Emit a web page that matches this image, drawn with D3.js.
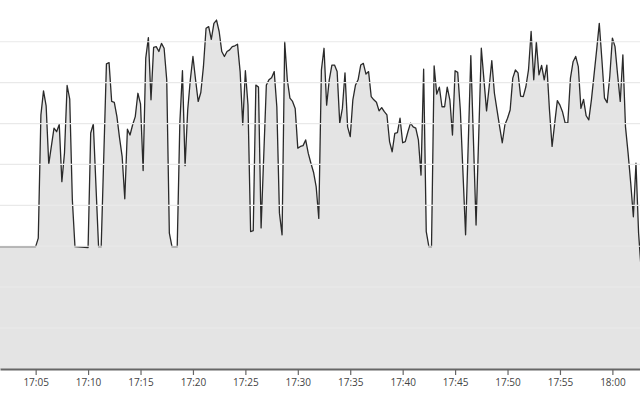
<!DOCTYPE html>
<html>
<head>
<meta charset="utf-8">
<script src="https://cdn.jsdelivr.net/npm/d3@7"></script>
<style>
  body { margin: 0; background: #fff; }
  svg { display: block; font-family: "Open Sans", sans-serif; }
</style>
</head>
<body>
<div class="canvas"></div>
<script>
const WIDTH = 640;
const HEIGHT = 400;
const margin = { top: 0, right: 0, bottom: 31, left: 0 };

const graphWidth = WIDTH - margin.left - margin.right;
const graphHeight = HEIGHT - margin.top - margin.bottom;

// visible window of the time axis
const xStart = '17:01:36';
const xEnd = '18:02:38';
const yMax = 9.02;
const gridValues = [1, 2, 3, 4, 5, 6, 7, 8];
const tickTimes = ['17:05', '17:10', '17:15', '17:20', '17:25', '17:30',
  '17:35', '17:40', '17:45', '17:50', '17:55', '18:00'];

// samples (time, value)
const times = [
  '17:01:30', '17:05:00', '17:05:15', '17:05:30', '17:05:45', '17:06:00', '17:06:15', '17:06:45',
  '17:07:00', '17:07:15', '17:07:30', '17:07:45', '17:08:00', '17:08:15', '17:08:30', '17:08:45',
  '17:10:00', '17:10:15', '17:10:30', '17:11:00', '17:11:15', '17:11:45', '17:12:00', '17:12:15',
  '17:12:30', '17:12:45', '17:13:00', '17:13:15', '17:13:30', '17:13:45', '17:14:00', '17:14:15',
  '17:14:30', '17:14:45', '17:15:00', '17:15:15', '17:15:30', '17:15:45', '17:16:00', '17:16:15',
  '17:16:30', '17:16:45', '17:17:00', '17:17:15', '17:17:30', '17:17:45', '17:18:00', '17:18:30',
  '17:18:45', '17:19:00', '17:19:15', '17:19:30', '17:19:45', '17:20:00', '17:20:15', '17:20:30',
  '17:20:45', '17:21:00', '17:21:15', '17:21:30', '17:21:45', '17:22:00', '17:22:15', '17:22:30',
  '17:22:45', '17:23:00', '17:23:15', '17:23:30', '17:23:45', '17:24:00', '17:24:15', '17:24:30',
  '17:24:45', '17:25:00', '17:25:15', '17:25:30', '17:25:45', '17:26:00', '17:26:15', '17:26:30',
  '17:27:00', '17:27:15', '17:27:30', '17:27:45', '17:28:00', '17:28:15', '17:28:30', '17:28:45',
  '17:29:00', '17:29:15', '17:29:30', '17:29:45', '17:30:00', '17:30:15', '17:30:30', '17:30:45',
  '17:31:00', '17:31:15', '17:31:30', '17:31:45', '17:32:00', '17:32:15', '17:32:30', '17:32:45',
  '17:33:00', '17:33:15', '17:33:30', '17:33:45', '17:34:00', '17:34:15', '17:34:30', '17:34:45',
  '17:35:00', '17:35:15', '17:35:30', '17:35:45', '17:36:00', '17:36:15', '17:36:30', '17:36:45',
  '17:37:00', '17:37:15', '17:37:30', '17:37:45', '17:38:00', '17:38:15', '17:38:30', '17:38:45',
  '17:39:00', '17:39:15', '17:39:30', '17:39:45', '17:40:00', '17:40:15', '17:40:30', '17:40:45',
  '17:41:00', '17:41:15', '17:41:30', '17:41:45', '17:42:00', '17:42:15', '17:42:30', '17:42:45',
  '17:43:00', '17:43:15', '17:43:30', '17:43:45', '17:44:00', '17:44:15', '17:44:30', '17:44:45',
  '17:45:00', '17:45:15', '17:45:30', '17:46:00', '17:46:30', '17:47:00', '17:47:30', '17:48:00',
  '17:48:15', '17:48:30', '17:48:45', '17:49:00', '17:49:15', '17:49:30', '17:49:45', '17:50:00',
  '17:50:15', '17:50:30', '17:50:45', '17:51:00', '17:51:15', '17:51:30', '17:51:45', '17:52:00',
  '17:52:15', '17:52:30', '17:52:45', '17:53:00', '17:53:15', '17:53:30', '17:53:45', '17:54:00',
  '17:54:15', '17:54:30', '17:54:45', '17:55:00', '17:55:15', '17:55:30', '17:55:45', '17:56:00',
  '17:56:15', '17:56:30', '17:56:45', '17:57:00', '17:57:15', '17:57:30', '17:57:45', '17:58:00',
  '17:58:15', '17:58:30', '17:58:45', '17:59:00', '17:59:15', '17:59:30', '17:59:45', '18:00:00',
  '18:00:15', '18:00:30', '18:00:45', '18:01:00', '18:01:15', '18:01:30', '18:01:45', '18:02:00',
  '18:02:15', '18:02:30', '18:02:45'
];
const values = [
  2.99, 2.99, 3.20, 6.21, 6.80, 6.43, 5.01, 5.89,
  5.80, 5.98, 4.58, 5.28, 6.93, 6.60, 4.13, 2.99,
  2.97, 5.77, 5.99, 2.99, 2.99, 7.46, 7.49, 6.54,
  6.52, 6.17, 5.65, 5.19, 4.16, 5.86, 5.72, 5.97,
  6.17, 6.74, 6.48, 4.85, 7.60, 8.10, 6.58, 7.86,
  7.88, 7.76, 7.96, 7.84, 7.07, 3.32, 2.99, 2.99,
  6.01, 7.29, 4.97, 6.33, 7.07, 7.64, 7.07, 6.54,
  6.76, 7.39, 8.33, 8.37, 8.06, 8.45, 8.53, 8.25,
  7.76, 7.64, 7.76, 7.80, 7.88, 7.90, 7.94, 7.27,
  5.97, 7.29, 6.45, 3.36, 3.38, 6.94, 6.89, 3.45,
  6.94, 7.07, 7.12, 7.27, 6.41, 3.81, 3.28, 8.00,
  7.07, 6.62, 6.54, 6.37, 5.40, 5.44, 5.46, 5.60,
  5.27, 5.03, 4.81, 4.46, 3.68, 7.31, 7.84, 6.45,
  7.07, 7.43, 7.43, 7.27, 6.01, 6.37, 7.24, 5.92,
  5.68, 6.58, 6.94, 7.07, 7.43, 7.47, 7.21, 7.27,
  6.66, 6.58, 6.52, 6.31, 6.39, 6.29, 6.21, 5.56,
  5.31, 5.76, 5.78, 6.13, 5.53, 5.56, 5.80, 6.01,
  5.92, 5.89, 5.60, 4.74, 7.33, 3.36, 2.99, 2.99,
  7.41, 6.72, 6.89, 6.41, 6.41, 6.89, 6.58, 5.72,
  7.29, 7.25, 6.33, 3.28, 7.66, 3.52, 7.84, 6.31,
  6.90, 7.54, 6.74, 6.33, 5.92, 5.53, 5.97, 6.13,
  6.33, 7.11, 7.31, 7.24, 6.67, 6.66, 6.90, 7.31,
  8.25, 7.07, 7.99, 7.19, 7.42, 7.07, 7.43, 6.33,
  5.44, 6.01, 6.56, 6.45, 6.28, 6.01, 6.02, 7.11,
  7.51, 7.64, 7.39, 6.37, 6.59, 6.19, 6.09, 6.58,
  7.19, 7.80, 8.45, 7.56, 6.62, 6.51, 7.15, 8.09,
  7.88, 7.19, 6.54, 7.68, 5.92, 5.27, 4.54, 3.72,
  5.03, 3.32, 2.40
];

const parseTime = d3.timeParse('%H:%M:%S');
const parseTick = d3.timeParse('%H:%M');
const data = times.map((t, i) => ({ time: parseTime(t), value: values[i] }));

const svg = d3.select('.canvas')
  .append('svg')
    .attr('width', WIDTH)
    .attr('height', HEIGHT);

svg.append('defs').append('clipPath')
    .attr('id', 'plot-clip')
  .append('rect')
    .attr('width', graphWidth)
    .attr('height', graphHeight);

const graphGroup = svg.append('g')
  .attr('transform', `translate(${margin.left},${margin.top})`);

const x = d3.scaleTime()
  .domain([parseTime(xStart), parseTime(xEnd)])
  .range([0, graphWidth]);

const y = d3.scaleLinear()
  .domain([0, yMax])
  .range([graphHeight, 0]);

// filled area with the outline on top
const area = d3.area()
  .x(d => x(d.time))
  .y0(y(0))
  .y1(d => y(d.value));

const line = d3.line()
  .x(d => x(d.time))
  .y(d => y(d.value));

const plot = graphGroup.append('g')
  .attr('clip-path', 'url(#plot-clip)');

plot.append('path')
  .datum(data)
  .attr('d', area)
  .attr('fill', '#e4e4e4');

// horizontal gridlines
graphGroup.append('g')
  .selectAll('line')
  .data(gridValues)
  .join('line')
    .attr('x1', 0)
    .attr('x2', graphWidth)
    .attr('y1', d => y(d))
    .attr('y2', d => y(d))
    .attr('stroke', '#e9e9e9')
    .attr('stroke-width', 1.2);

plot.append('path')
  .datum(data)
  .attr('d', line)
  .attr('fill', 'none')
  .attr('stroke', '#2a2a2a')
  .attr('stroke-width', 1.3)
  .attr('stroke-linejoin', 'round');

// bottom axis
const xAxis = d3.axisBottom(x)
  .tickValues(tickTimes.map(parseTick))
  .tickFormat(d3.timeFormat('%H:%M'))
  .tickSize(6)
  .tickSizeOuter(0);

const xAxisGroup = graphGroup.append('g')
  .attr('transform', `translate(0,${graphHeight})`)
  .call(xAxis);

xAxisGroup.select('.domain')
  .attr('stroke', '#666')
  .attr('stroke-width', 2);

xAxisGroup.selectAll('.tick line')
  .attr('stroke', '#666')
  .attr('stroke-width', 1.2);

xAxisGroup.selectAll('text')
  .attr('fill', '#444')
  .attr('font-size', '10px')
  .attr('font-family', '"Open Sans", sans-serif')
  .attr('dy', '0.85em')
  .attr('y', 8);
</script>
</body>
</html>
